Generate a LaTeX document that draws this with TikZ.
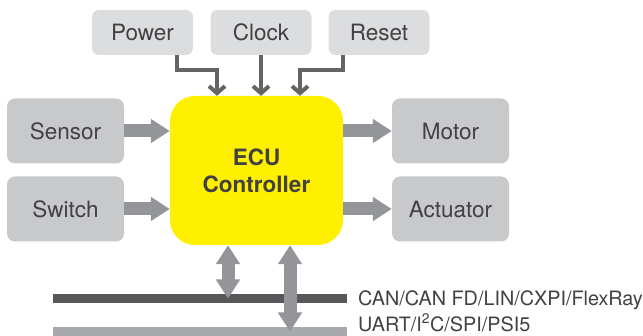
\documentclass[tikz,border=0pt]{standalone}
\usepackage{fontspec}
\setmainfont{TeX Gyre Heros}
\usetikzlibrary{arrows.meta}
\definecolor{topbox}{HTML}{DCDDDE}
\definecolor{sidebox}{HTML}{C8C9CB}
\definecolor{ecuyellow}{HTML}{FFF000}
\definecolor{bigarrow}{HTML}{939598}
\definecolor{thinarrow}{HTML}{636466}
\definecolor{txt}{HTML}{414042}
\definecolor{canbar}{HTML}{58585A}
\definecolor{uartbar}{HTML}{A7A9AC}
\begin{document}
\begin{tikzpicture}[x=1pt,y=-1pt,
  lbl/.style={font=\fontsize{22.5}{27}\selectfont, text=txt},
  topbx/.style={lbl, fill=topbox, rounded corners=7pt, minimum width=101pt, minimum height=45pt, inner sep=0pt},
  sidebx/.style={lbl, fill=sidebox, rounded corners=8pt, minimum width=117pt, minimum height=65pt, inner sep=0pt},
  bigarr/.style={draw=bigarrow, line width=13pt, -{Triangle[length=19pt,width=23pt]}},
  dblarr/.style={draw=bigarrow, line width=13pt, {Triangle[length=19pt,width=23pt]}-{Triangle[length=19pt,width=23pt]}},
  thinarr/.style={draw=thinarrow, line width=4pt, -{Straight Barb[length=7pt,width=16pt]}},
  busbar/.style={inner sep=0pt, minimum width=294pt, minimum height=9pt},
  buslbl/.style={font=\fontsize{19.8}{22}\selectfont, text=txt, anchor=west, inner sep=0pt}
]
\useasboundingbox (0,0) rectangle (643,336);

% top boxes
\node[topbx] (power) at (142.5,32.5) {Power};
\node[topbx] (clock) at (261,32.5) {Clock};
\node[topbx] (reset) at (379,32.5) {Reset};

% ECU
\node[fill=ecuyellow, rounded corners=25pt, minimum width=173pt, minimum height=149pt, inner sep=0pt,
      font=\fontsize{22.5}{27}\selectfont\bfseries, text=txt, align=center] (ecu) at (256.5,170.5) {ECU\\Controller};

% side boxes
\node[sidebx] (sensor) at (65.5,131) {Sensor};
\node[sidebx] (switch) at (65.5,209) {Switch};
\node[sidebx] (motor) at (450.5,131) {Motor};
\node[sidebx] (actuator) at (450.5,209) {Actuator};

% buses
\node[busbar, fill=canbar] (can) at (200,298.5) {};
\node[busbar, fill=uartbar] (uart) at (200,331.5) {};
\node[buslbl] (canlbl) at (358,300) {CAN/CAN FD/LIN/CXPI/FlexRay};
\node[buslbl] (uartlbl) at (358,323) {UART/I\textsuperscript{2}C/SPI/PSI5};

% big arrows
\draw[bigarr] (sensor.east) -- (sensor.east -| ecu.west);
\draw[bigarr] (switch.east) -- (switch.east -| ecu.west);
\draw[bigarr] (motor.west -| ecu.east) -- (motor.west);
\draw[bigarr] (actuator.west -| ecu.east) -- (actuator.west);

% bus arrows
\coordinate (b1) at (228,0);
\coordinate (b2) at (290,0);
\draw[dblarr] (b1 |- ecu.south) -- (b1 |- can.center);
\draw[dblarr] (b2 |- ecu.south) -- (b2 |- uart.center);

% top arrows
\draw[thinarr] ([xshift=34.5pt]power.south) -- ++(0,15) -| ([xshift=-39.5pt]ecu.north);
\draw[thinarr] (clock.south) -- (clock.south |- ecu.north);
\draw[thinarr] ([xshift=-36pt]reset.south) -- ++(0,15) -| ([xshift=43.5pt]ecu.north);
\end{tikzpicture}
\end{document}
